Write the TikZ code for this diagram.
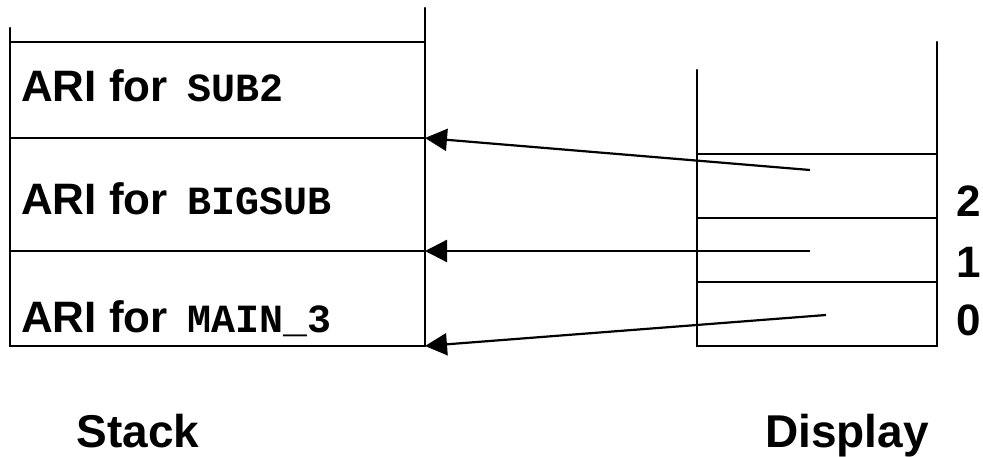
\documentclass[tikz,border=0pt]{standalone}
\usepackage{fontspec}
\setmainfont{Liberation Sans}
\newfontfamily\codefont{Liberation Mono}
\newcommand\proc[1]{\hspace{20pt}{\fontsize{40}{42}\selectfont\codefont\bfseries #1}}
\usetikzlibrary{arrows.meta}
\begin{document}
\begin{tikzpicture}[x=1pt,y=-1pt,
  rule/.style={line width=2.2pt,line cap=round},
  ptr/.style={line width=2.2pt,-{Triangle[length=22pt,width=22pt]}},
  ari/.style={anchor=base west,inner sep=0pt,font=\fontsize{44}{48}\selectfont\bfseries},
  lvl/.style={anchor=base,inner sep=0pt,font=\fontsize{44}{48}\selectfont\bfseries},
  caption/.style={anchor=base,inner sep=0pt,font=\fontsize{46}{50}\selectfont\bfseries}]
\useasboundingbox (0,0) rectangle (983,457);

% stack frame
\coordinate (sTL) at (10,28);
\coordinate (sTR) at (425,8);
\coordinate (s3) at (425,42);
\coordinate (s2) at (425,138);
\coordinate (s1) at (425,251);
\coordinate (s0) at (425,346);
\draw[rule] (sTL) -- (10,346) -- (s0) -- (sTR);
\draw[rule] (10,42) -- (s3);
\draw[rule] (10,138) -- (s2);
\draw[rule] (10,251) -- (s1);

\node[ari] (a2) at (21,102) {ARI for\proc{SUB2}};
\node[ari] (a1) at (21,215) {ARI for\proc{BIGSUB}};
\node[ari] (a0) at (21,332) {ARI for\proc{MAIN\_3}};

% display frame
\draw[rule] (697,70) -- (697,346) -- (937,346) -- (937,42);
\draw[rule] (697,154) -- (937,154);
\draw[rule] (697,218) -- (937,218);
\draw[rule] (697,282) -- (937,282);

\node[lvl] (l2) at (969,217) {2};
\node[lvl] (l1) at (969,278) {1};
\node[lvl] (l0) at (969,335) {0};

% display entries point into the stack
\coordinate (d2) at (810,170);
\coordinate (d1) at (810,251);
\coordinate (d0) at (826,315);
\draw[ptr] (d2) -- (s2);
\draw[ptr] (d1) -- (s1);
\draw[ptr] (d0) -- (s0);

\node[caption] (stk) at (138,447) {Stack};
\node[caption] (dsp) at (847,447) {Display};
\end{tikzpicture}
\end{document}
